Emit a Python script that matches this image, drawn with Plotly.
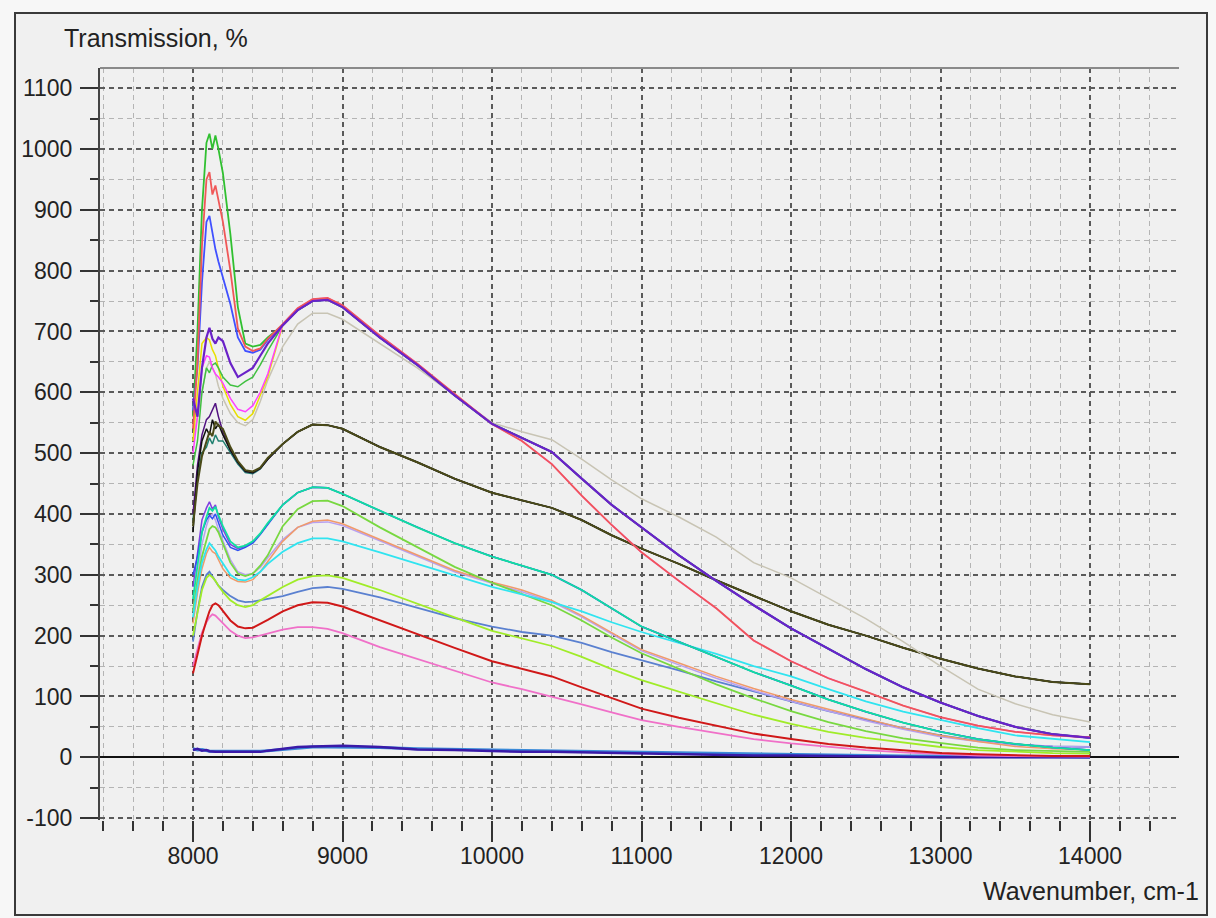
import plotly.graph_objects as go

# ---- wavenumber grid (cm-1) ----
wn_early = [8000, 8030, 8060, 8090, 8110, 8130, 8150, 8170, 8200, 8250, 8300, 8350, 8400, 8450, 8500]
wn_late = [8600, 8700, 8800, 8900, 9000, 9250, 9500, 9750, 10000, 10200, 10400, 10600, 10800, 11000,
           11250, 11500, 11750, 12000, 12250, 12500, 12750, 13000, 13250, 13500, 13750, 14000]
wavenumber = wn_early + wn_late

# ---- tick labels ----
y_tick_vals = [-100, 0, 100, 200, 300, 400, 500, 600, 700, 800, 900, 1000, 1100]
y_tick_text = ["-100", "0", "100", "200", "300", "400", "500", "600", "700", "800", "900", "1000", "1100"]
x_tick_vals = [8000, 9000, 10000, 11000, 12000, 13000, 14000]
x_tick_text = ["8000", "9000", "10000", "11000", "12000", "13000", "14000"]

upper_purple_tail = [710, 735, 750, 752, 740, 690, 645, 595, 548, 525, 502, 458, 415, 378, 332, 290, 250, 212, 178, 145, 115, 90, 68, 50, 38, 32]
upper_red_tail = [712, 738, 753, 755, 743, 693, 647, 597, 548, 520, 482, 430, 382, 337, 290, 245, 192, 158, 130, 108, 85, 66, 52, 42, 36, 33]
olive_tail = [515, 535, 547, 546, 540, 510, 485, 458, 435, 422, 410, 390, 365, 343, 318, 291, 265, 240, 218, 200, 180, 162, 146, 133, 124, 120]
teal_tail = [415, 435, 444, 443, 433, 405, 378, 352, 330, 315, 300, 275, 245, 215, 190, 165, 140, 118, 95, 75, 57, 42, 30, 22, 16, 12]

# ---- top group ----
green_hi = [560, 700, 900, 1010, 1025, 1000, 1022, 1000, 960, 860, 740, 680, 675, 678, 690] + upper_purple_tail
red_hi = [540, 650, 840, 950, 962, 925, 940, 915, 880, 800, 705, 675, 668, 672, 688] + upper_red_tail
blue_hi = [570, 640, 780, 880, 890, 860, 835, 815, 790, 745, 690, 668, 665, 670, 686] + upper_purple_tail
green_mid = [480, 520, 600, 640, 632, 645, 648, 640, 625, 612, 609, 618, 625, 645, 668] + upper_purple_tail
yellow_mid = [520, 600, 680, 690, 686, 670, 660, 640, 610, 580, 560, 554, 565, 595, 625] + upper_purple_tail
magenta_mid = [500, 560, 640, 660, 658, 640, 630, 625, 615, 590, 572, 568, 578, 600, 630] + upper_red_tail
purple_mid = [590, 560, 640, 690, 706, 688, 680, 690, 684, 648, 625, 632, 640, 660, 680] + upper_purple_tail
gray_curve = [520, 560, 600, 640, 650, 640, 630, 610, 590, 565, 550, 545, 555, 585, 620,
              675, 712, 730, 730, 720, 680, 640, 595, 550, 535, 522, 490, 456, 425, 395, 362, 320, 295, 262, 228, 190, 150, 112, 88, 70, 58]

# ---- olive group ----
olive = [380, 450, 495, 520, 535, 528, 552, 545, 540, 510, 487, 472, 470, 476, 492] + olive_tail
black_o = [370, 470, 520, 540, 530, 555, 540, 548, 530, 505, 485, 470, 468, 475, 490] + olive_tail
dpurple_o = [400, 480, 530, 555, 560, 570, 582, 560, 535, 505, 485, 470, 468, 475, 490] + olive_tail
dteal_o = [390, 460, 500, 510, 525, 515, 530, 520, 520, 500, 482, 468, 466, 474, 490] + olive_tail

# ---- middle group ----
violet_b = [280, 340, 390, 410, 420, 408, 415, 395, 375, 350, 343, 347, 354, 367, 384] + teal_tail
royal_b = [300, 330, 370, 390, 398, 392, 400, 385, 365, 345, 340, 345, 352, 366, 383] + teal_tail
teal = [260, 320, 370, 395, 410, 405, 412, 398, 380, 355, 345, 348, 355, 368, 385] + teal_tail
lightgreen = [240, 290, 330, 360, 375, 380, 378, 370, 350, 320, 302, 298, 302, 315, 332,
              380, 408, 421, 422, 413, 378, 345, 313, 287, 268, 250, 225, 197, 171, 146, 120, 97, 76, 58, 43, 31, 23, 16, 12, 10, 9]
salmon = [220, 270, 310, 335, 345, 338, 335, 325, 310, 295, 289, 288, 292, 305, 322,
          355, 378, 388, 390, 384, 358, 332, 307, 288, 275, 258, 233, 205, 177, 155, 133, 113, 95, 79, 63, 48, 36, 26, 18, 14, 12]
lavender = [240, 300, 350, 380, 395, 400, 390, 375, 355, 325, 305, 300, 302, 312, 328,
            358, 378, 386, 387, 381, 356, 330, 305, 286, 272, 256, 231, 203, 175, 152, 130, 110, 92, 76, 60, 46, 34, 26, 21, 18, 17]
cyan = [230, 280, 320, 342, 352, 346, 340, 330, 318, 300, 292, 291, 296, 305, 318,
        338, 352, 360, 360, 355, 337, 318, 298, 280, 268, 255, 240, 222, 206, 188, 170, 150, 133, 112, 92, 75, 61, 48, 36, 30, 25]
chartreuse = [200, 240, 275, 295, 300, 296, 290, 282, 272, 258, 250, 247, 250, 258, 265,
              280, 292, 298, 299, 295, 275, 252, 230, 208, 195, 183, 165, 145, 127, 108, 90, 70, 55, 42, 32, 24, 17, 12, 9, 7, 6]
steelblue = [190, 240, 280, 300, 305, 298, 290, 282, 275, 265, 258, 255, 256, 258, 260,
             265, 272, 278, 280, 277, 263, 246, 229, 215, 206, 200, 188, 173, 160, 143, 125, 108, 92, 76, 62, 48, 36, 27, 21, 18, 17]
red_low = [138, 170, 200, 225, 240, 250, 253, 250, 240, 225, 215, 212, 213, 219, 226,
           240, 250, 255, 254, 248, 225, 203, 180, 158, 145, 133, 115, 97, 80, 65, 52, 39, 30, 22, 16, 11, 7, 5, 3, 2, 2]
pink_low = [150, 180, 205, 222, 230, 235, 233, 228, 220, 208, 200, 196, 197, 200, 204,
            210, 214, 214, 211, 204, 181, 162, 142, 123, 112, 100, 87, 74, 61, 50, 40, 30, 23, 17, 12, 8, 5, 3, 2, 1, 1]

# ---- near-zero curves ----
zero_blue = [14, 12, 13, 11, 10, 10, 10, 9, 9, 9, 9, 9, 10, 10, 11,
             13, 15, 17, 17, 17, 16, 14, 13, 12, 11, 11, 10, 9, 8, 7, 6, 5, 4, 3, 3, 2, 2, 1, 1, 1, 0]
zero_indigo = [12, 14, 11, 12, 10, 9, 9, 9, 9, 9, 8, 8, 9, 9, 11,
               14, 17, 18, 19, 19, 17, 13, 12, 10, 9, 9, 8, 7, 6, 5, 4, 3, 3, 2, 1, 1, 0, 0, 0, 0, 0]

series = [
    ("zero_blue", zero_blue, "#3A8AD8", 3),
    ("zero_indigo", zero_indigo, "#3A1AA8", 2.5),
    ("pink", pink_low, "#F070C8", 1.8),
    ("red", red_low, "#D01818", 2),
    ("steelblue", steelblue, "#5A80D0", 1.8),
    ("chartreuse", chartreuse, "#A0EC28", 1.8),
    ("lavender", lavender, "#B8A0F0", 1.5),
    ("salmon", salmon, "#F09A6A", 1.5),
    ("lightgreen", lightgreen, "#78D840", 1.8),
    ("cyan", cyan, "#30E4F0", 1.8),
    ("violet_b", violet_b, "#8040E0", 1.5),
    ("royal_b", royal_b, "#3050F0", 1.5),
    ("teal", teal, "#10E0A0", 1.8),
    ("dteal_o", dteal_o, "#208070", 1.5),
    ("dpurple_o", dpurple_o, "#501080", 1.5),
    ("black_o", black_o, "#101010", 1.5),
    ("olive", olive, "#4A4A18", 2),
    ("gray", gray_curve, "#C8C4B4", 1.5),
    ("yellow", yellow_mid, "#E8E000", 1.5),
    ("green_mid", green_mid, "#40C040", 1.5),
    ("green_hi", green_hi, "#30C030", 1.8),
    ("blue_hi", blue_hi, "#4050FF", 1.8),
    ("magenta", magenta_mid, "#FF40FF", 1.5),
    ("red_hi", red_hi, "#F05858", 1.8),
    ("purple", purple_mid, "#6A22C8", 2.2),
]

fig = go.Figure()
for name, vals, color, w in series:
    fig.add_trace(go.Scatter(x=wavenumber, y=vals, mode="lines", name=name,
                             line=dict(color=color, width=w), showlegend=False))

FONT = "Liberation Sans, Arial, sans-serif"
W, H = 1216, 918
L, R, T, B = 100, 37, 68, 98
pw, ph = W - L - R, H - T - B

def px(xp):
    return (xp - L) / pw

def py(yp):
    return (H - B - yp) / ph

fig.update_layout(
    width=W, height=H,
    margin=dict(l=L, r=R, t=T, b=B, pad=0),
    paper_bgcolor="#F7F7F7",
    plot_bgcolor="#FEFEF0",
    font=dict(family=FONT, size=23, color="#222222"),
    showlegend=False,
    xaxis=dict(
        range=[7378, 14595], tickmode="array", tickvals=x_tick_vals, ticktext=x_tick_text,
        showgrid=True, gridcolor="#5A5A5A", gridwidth=2, griddash="5px,4px",
        ticks="outside", ticklen=21, tickwidth=2, tickcolor="#333333",
        ticklabelstandoff=-6,
        zeroline=False, showline=False,
        minor=dict(dtick=200, tick0=0, showgrid=True, gridcolor="#B4B4B4", gridwidth=1,
                   griddash="5px,4px", ticks="outside", ticklen=10, tickwidth=2, tickcolor="#333333"),
    ),
    yaxis=dict(
        range=[-103, 1133], tickmode="array", tickvals=y_tick_vals, ticktext=y_tick_text,
        showgrid=True, gridcolor="#5A5A5A", gridwidth=2, griddash="5px,4px",
        ticks="outside", ticklen=18, tickwidth=2, tickcolor="#333333",
        ticklabelstandoff=3,
        zeroline=True, zerolinecolor="#111111", zerolinewidth=2,
        showline=True, linecolor="#444444", linewidth=2,
        minor=dict(dtick=50, tick0=0, showgrid=True, gridcolor="#B4B4B4", gridwidth=1,
                   griddash="5px,4px", ticks="outside", ticklen=8, tickwidth=2, tickcolor="#333333"),
    ),
    shapes=[
        dict(type="rect", xref="paper", yref="paper", layer="below",
             x0=px(15), x1=px(1207), y0=py(915), y1=py(13),
             fillcolor="#F0F0F0", line=dict(color="#3A3A3A", width=2)),
        dict(type="line", xref="paper", yref="paper", x0=0, x1=1, y0=1, y1=1,
             line=dict(color="#8A8A8A", width=2)),
    ],
    annotations=[
        dict(text="Transmission, %", xref="paper", yref="paper", x=px(62), y=py(38),
             xanchor="left", yanchor="middle", showarrow=False,
             font=dict(family=FONT, size=25, color="#222222")),
        dict(text="Wavenumber, cm-1", xref="paper", yref="paper", x=px(1201), y=py(891),
             xanchor="right", yanchor="middle", showarrow=False,
             font=dict(family=FONT, size=25, color="#222222")),
    ],
)

fig.write_html("out.html")
